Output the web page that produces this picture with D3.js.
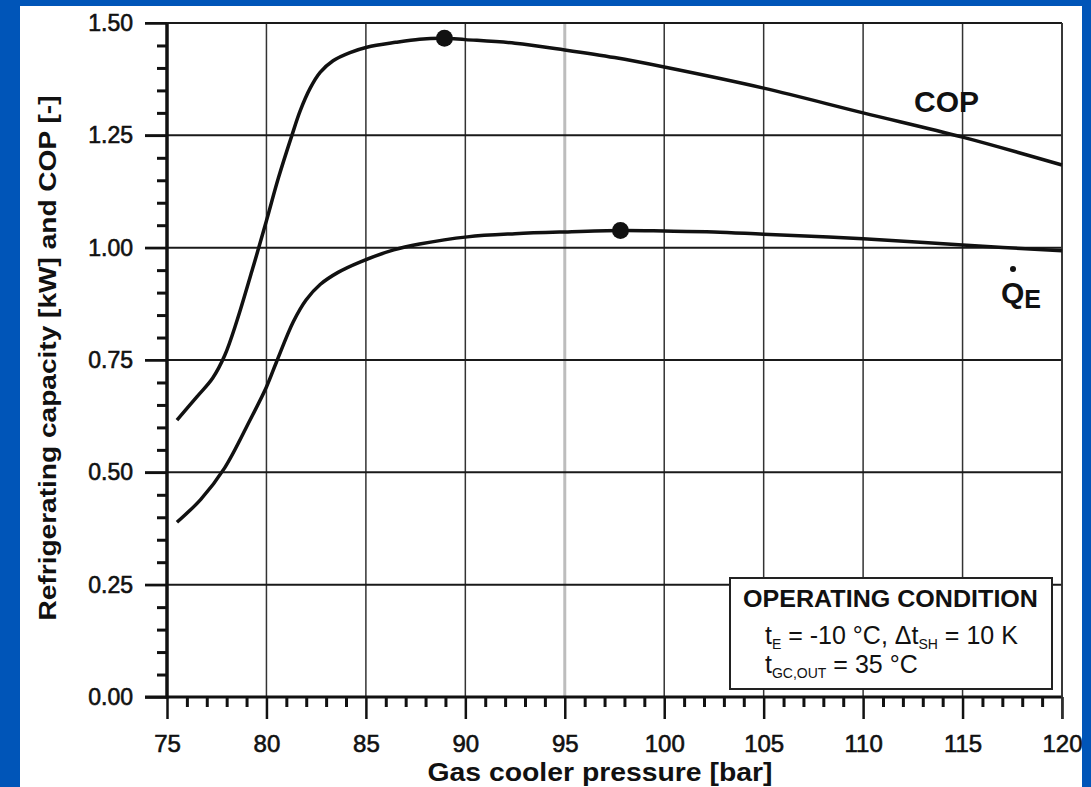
<!DOCTYPE html>
<html>
<head>
<meta charset="utf-8">
<script src="https://cdn.jsdelivr.net/npm/d3@7"></script>
<style>
  html, body { margin: 0; padding: 0; background: #0055b8; }
  svg { display: block; }
  text { font-family: "Liberation Sans", Arial, sans-serif; fill: #111; }
</style>
</head>
<body>
<div id="chart"></div>
<script>
var svgWidth = 1091;
var svgHeight = 787;

// plot area in pixels
var plot = { left: 167, right: 1062, top: 23, bottom: 697 };

// data
var xTicks = [75, 80, 85, 90, 95, 100, 105, 110, 115, 120];
var yTicks = [0, 0.25, 0.5, 0.75, 1.0, 1.25, 1.5];

var copPressure = [75.5, 76.5, 77.3, 77.9, 78.5, 79.27, 80.0, 80.6, 81.28, 81.7, 82.2, 82.7, 83.35, 84.2, 85.05, 86.5, 87.7, 88.95, 90, 92.5, 95, 97.5, 100, 105, 110, 115, 120];
var copValues   = [0.616, 0.668, 0.71, 0.76, 0.835, 0.948, 1.06, 1.155, 1.25, 1.305, 1.355, 1.39, 1.416, 1.434, 1.446, 1.457, 1.464, 1.466, 1.463, 1.455, 1.44, 1.423, 1.402, 1.355, 1.30, 1.246, 1.184];

var qePressure = [75.5, 76.7, 77.9, 79.17, 80.0, 80.5, 81.35, 82.0, 82.7, 83.6, 84.7, 86.4, 87.7, 90.1, 92.5, 95, 97.8, 100, 102.5, 105, 110, 115, 120];
var qeValues   = [0.389, 0.44, 0.51, 0.616, 0.69, 0.745, 0.835, 0.884, 0.918, 0.945, 0.968, 0.995, 1.008, 1.024, 1.031, 1.035, 1.038, 1.037, 1.035, 1.03, 1.02, 1.006, 0.993];

// optimum markers
var maxPoints = [[88.95, 1.466], [97.8, 1.038]];

var svg = d3.select("#chart")
  .append("svg")
  .attr("width", svgWidth)
  .attr("height", svgHeight);

// white page inside the blue frame
svg.append("rect")
  .attr("x", 20).attr("y", 6)
  .attr("width", 1062).attr("height", svgHeight - 6)
  .attr("fill", "#fff");

var x = d3.scaleLinear().domain([75, 120]).range([plot.left, plot.right]);
var y = d3.scaleLinear().domain([0, 1.5]).range([plot.bottom, plot.top]);

var xMinor = d3.range(75, 120.01, 1).filter(function(d) { return d % 5 !== 0; });
var yMinor = d3.range(0, 1.5001, 0.05).filter(function(d) { return Math.round(d * 100) % 25 !== 0; });

// vertical grid
svg.append("g")
  .selectAll("line")
  .data(xTicks.slice(1))
  .enter()
  .append("line")
  .attr("x1", function(d) { return x(d); })
  .attr("x2", function(d) { return x(d); })
  .attr("y1", y(0))
  .attr("y2", y(1.5))
  .attr("stroke", function(d) { return d === 95 ? "#bdbdbd" : "#333"; })
  .attr("stroke-width", function(d) { return d === 95 ? 3 : 1.5; });

// horizontal grid, running out past the axis as the major ticks
svg.append("g")
  .selectAll("line")
  .data(yTicks)
  .enter()
  .append("line")
  .attr("x1", plot.left - 22)
  .attr("x2", plot.right)
  .attr("y1", function(d) { return y(d); })
  .attr("y2", function(d) { return y(d); })
  .attr("stroke", "#1a1a1a")
  .attr("stroke-width", 2);

// y axis
var leftAxis = d3.axisLeft(y)
  .tickValues(yTicks)
  .tickSize(22)
  .tickPadding(12)
  .tickFormat(d3.format(".2f"));

var yAxisG = svg.append("g")
  .attr("transform", "translate(" + plot.left + ",0)")
  .call(leftAxis);
yAxisG.select(".domain").remove();
yAxisG.selectAll("line").attr("stroke", "#111").attr("stroke-width", 2.5);
yAxisG.selectAll("text")
  .style("font-size", "23px")
  .attr("fill", "#111")
  .attr("stroke", "#111")
  .attr("stroke-width", 0.6);

var yMinorG = svg.append("g")
  .attr("transform", "translate(" + plot.left + ",0)")
  .call(d3.axisLeft(y).tickValues(yMinor).tickSize(10).tickFormat(""));
yMinorG.select(".domain").remove();
yMinorG.selectAll("line").attr("stroke", "#111").attr("stroke-width", 3);

// x axis
var bottomAxis = d3.axisBottom(x)
  .tickValues(xTicks)
  .tickSize(22)
  .tickPadding(16);

var xAxisG = svg.append("g")
  .attr("transform", "translate(0," + plot.bottom + ")")
  .call(bottomAxis);
xAxisG.select(".domain").remove();
xAxisG.selectAll("line").attr("stroke", "#111").attr("stroke-width", 2.5);
xAxisG.selectAll("text")
  .style("font-size", "24px")
  .attr("fill", "#111")
  .attr("stroke", "#111")
  .attr("stroke-width", 0.6);

var xMinorG = svg.append("g")
  .attr("transform", "translate(0," + plot.bottom + ")")
  .call(d3.axisBottom(x).tickValues(xMinor).tickSize(10).tickFormat(""));
xMinorG.select(".domain").remove();
xMinorG.selectAll("line").attr("stroke", "#111").attr("stroke-width", 3);

// axis lines
svg.append("line")
  .attr("x1", plot.left).attr("x2", plot.left)
  .attr("y1", plot.top).attr("y2", plot.bottom + 1.5)
  .attr("stroke", "#111").attr("stroke-width", 3.5);
svg.append("line")
  .attr("x1", plot.left - 22).attr("x2", plot.right + 1)
  .attr("y1", plot.bottom).attr("y2", plot.bottom)
  .attr("stroke", "#111").attr("stroke-width", 3);
svg.append("line")
  .attr("x1", plot.right).attr("x2", plot.right)
  .attr("y1", plot.top).attr("y2", plot.bottom + 22)
  .attr("stroke", "#333").attr("stroke-width", 1.8);

// curves
var line = d3.line()
  .x(function(d) { return x(d[0]); })
  .y(function(d) { return y(d[1]); })
  .curve(d3.curveCatmullRom.alpha(0.5));

var copData = copPressure.map(function(p, i) { return [p, copValues[i]]; });
var qeData = qePressure.map(function(p, i) { return [p, qeValues[i]]; });

[copData, qeData].forEach(function(series) {
  svg.append("path")
    .datum(series)
    .attr("d", line)
    .attr("fill", "none")
    .attr("stroke", "#111")
    .attr("stroke-width", 3.5)
    .attr("stroke-linejoin", "round");
});

svg.selectAll("circle.max")
  .data(maxPoints)
  .enter()
  .append("circle")
  .attr("class", "max")
  .attr("cx", function(d) { return x(d[0]); })
  .attr("cy", function(d) { return y(d[1]); })
  .attr("r", 8.5)
  .attr("fill", "#111");

// curve labels
svg.append("text")
  .attr("x", 914).attr("y", 112)
  .style("font-size", "30px")
  .style("font-weight", "bold")
  .text("COP");

var qeLabel = svg.append("text")
  .attr("x", 1001).attr("y", 303)
  .style("font-weight", "bold");
qeLabel.append("tspan").style("font-size", "30px").text("Q");
qeLabel.append("tspan").attr("dy", 5).style("font-size", "25px").text("E");
svg.append("circle")
  .attr("cx", 1013).attr("cy", 269).attr("r", 3)
  .attr("fill", "#111");

// axis titles
svg.append("text")
  .attr("transform", "translate(56,358) rotate(-90)")
  .style("text-anchor", "middle")
  .style("font-size", "23px")
  .style("font-weight", "bold")
  .attr("textLength", 525)
  .attr("lengthAdjust", "spacingAndGlyphs")
  .text("Refrigerating capacity [kW] and COP [-]");

svg.append("text")
  .attr("x", 600).attr("y", 781)
  .style("text-anchor", "middle")
  .style("font-size", "25px")
  .style("font-weight", "bold")
  .attr("textLength", 345)
  .attr("lengthAdjust", "spacingAndGlyphs")
  .text("Gas cooler pressure [bar]");

// operating condition box
svg.append("rect")
  .attr("x", 730).attr("y", 578)
  .attr("width", 322).attr("height", 111)
  .attr("fill", "#fff")
  .attr("stroke", "#222")
  .attr("stroke-width", 2);

svg.append("text")
  .attr("x", 743).attr("y", 607)
  .style("font-size", "24px")
  .style("font-weight", "bold")
  .attr("textLength", 295)
  .attr("lengthAdjust", "spacingAndGlyphs")
  .text("OPERATING CONDITION");

var cond1 = svg.append("text")
  .attr("x", 765).attr("y", 644)
  .style("font-size", "25px");
cond1.append("tspan").text("t");
cond1.append("tspan").attr("dy", 5).style("font-size", "14px").text("E");
cond1.append("tspan").attr("dy", -5).text(" = -10 °C, Δt");
cond1.append("tspan").attr("dy", 5).style("font-size", "14px").text("SH");
cond1.append("tspan").attr("dy", -5).text(" = 10 K");

var cond2 = svg.append("text")
  .attr("x", 765).attr("y", 673)
  .style("font-size", "25px");
cond2.append("tspan").text("t");
cond2.append("tspan").attr("dy", 5).style("font-size", "14px").text("GC,OUT");
cond2.append("tspan").attr("dy", -5).text(" = 35 °C");
</script>
</body>
</html>
